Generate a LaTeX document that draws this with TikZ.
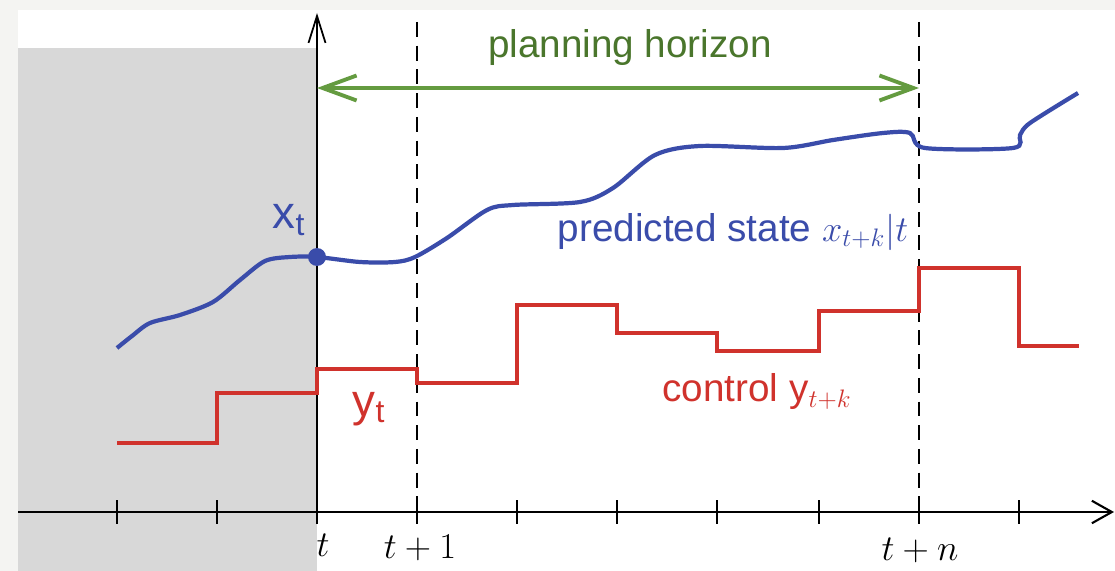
\documentclass[tikz,border=0pt]{standalone}
\usepackage{amsmath}
\usepackage{fontspec}
\setmainfont{Liberation Sans}
\usepackage{tikz}
\usetikzlibrary{arrows.meta,positioning}

\definecolor{stateblue}{RGB}{58,76,170}
\definecolor{controlred}{RGB}{208,50,44}
\definecolor{horizongreen}{RGB}{100,155,64}
\definecolor{labelgreen}{RGB}{74,118,44}
\definecolor{pastgray}{RGB}{216,216,216}
\definecolor{framegray}{RGB}{244,244,242}

\begin{document}
\begin{tikzpicture}[x=0.02cm, y=-0.02cm,
        axis/.style={line width=1.2pt, black},
        tickmark/.style={line width=0.9pt, black},
        guide/.style={line width=1.2pt, black, dash pattern=on 8.5pt off 5pt},
        state/.style={line width=2.4pt, stateblue},
        control/.style={line width=2.4pt, controlred},
        horizon/.style={line width=2.2pt, horizongreen,
            {Straight Barb[length=0.68cm,width=0.5cm]}-{Straight Barb[length=0.68cm,width=0.5cm]}},
        lbl/.style={font=\fontsize{22}{26}\selectfont, inner sep=0pt},
        sym/.style={font=\fontsize{26}{30}\selectfont, inner sep=0pt}]

        \useasboundingbox (0,0) rectangle (1115,571);
        \fill[framegray] (0,0) rectangle (1115,571);
        \fill[white] (18,10) rectangle (1115,571);
        \fill[pastgray] (18,48) rectangle (317,571);

        \coordinate (origin) at (317,512);
        \coordinate (xstart) at (18,512);
        \coordinate (xend) at (1114,512);
        \coordinate (ytop) at (317,13);
        \coordinate (g1top) at (417,22);
        \coordinate (g1bot) at (417,512);
        \coordinate (gntop) at (919,22);
        \coordinate (gnbot) at (919,512);
        \coordinate (hstart) at (317,88);
        \coordinate (hend) at (919,88);

        \draw[axis, -{Straight Barb[length=0.4cm,width=0.45cm]}] (xstart) -- (xend);
        \draw[axis, line width=1pt, -{Straight Barb[length=0.54cm,width=0.34cm]}] (origin) -- (ytop);
        \foreach \x in {117,217,317,417,517,617,717,819,919,1019}
            \draw[tickmark] (\x,500) -- (\x,524);
        \draw[guide] (g1top) -- (g1bot);
        \draw[guide] (gntop) -- (gnbot);

        \draw[horizon] (hstart) -- (hend);
        \node[lbl, text=labelgreen] (horizon) at (630,48) {planning horizon};

        \draw[control] (117,443) -- (217,443) -- (217,393) -- (317,393) -- (317,369)
            -- (417,369) -- (417,383) -- (517,383) -- (517,305) -- (617,305)
            -- (617,333) -- (717,333) -- (717,351) -- (819,351) -- (819,311)
            -- (919,311) -- (919,268) -- (1019,268) -- (1019,346) -- (1079,346);

        \draw[state] plot[smooth, tension=0.5] coordinates {(117,348) (132,336) (150,323)
            (180,315) (213,302) (240,280) (265,261) (290,257) (317,257) (360,262)
            (395,262) (415,257) (447,238) (487,210) (513,205) (580,202) (613,188)
            (655,155) (700,146) (783,148) (833,140) (883,133) (910,133) (925,148)
            (1013,148) (1020,135) (1030,123) (1078,93)};
        \node[circle, fill=stateblue, inner sep=0pt, minimum size=0.36cm] (xt) at (317,257) {};

        \node[sym, text=stateblue] (xtlab) at (289,220) {x$_\text{t}$};
        \node[sym, text=controlred] (ytlab) at (369,409) {y$_\text{t}$};
        \node[lbl, text=stateblue] (pred) at (733,232) {predicted state $x_{t+k}|t$};
        \node[lbl, text=controlred] (ctrl) at (757,392) {control y$_{t+k}$};

        \node[lbl] (tlab) at (323,545) {$t$};
        \node[lbl] (t1lab) at (420,548) {$t+1$};
        \node[lbl] (tnlab) at (920,550) {$t+n$};
    \end{tikzpicture}
\end{document}
